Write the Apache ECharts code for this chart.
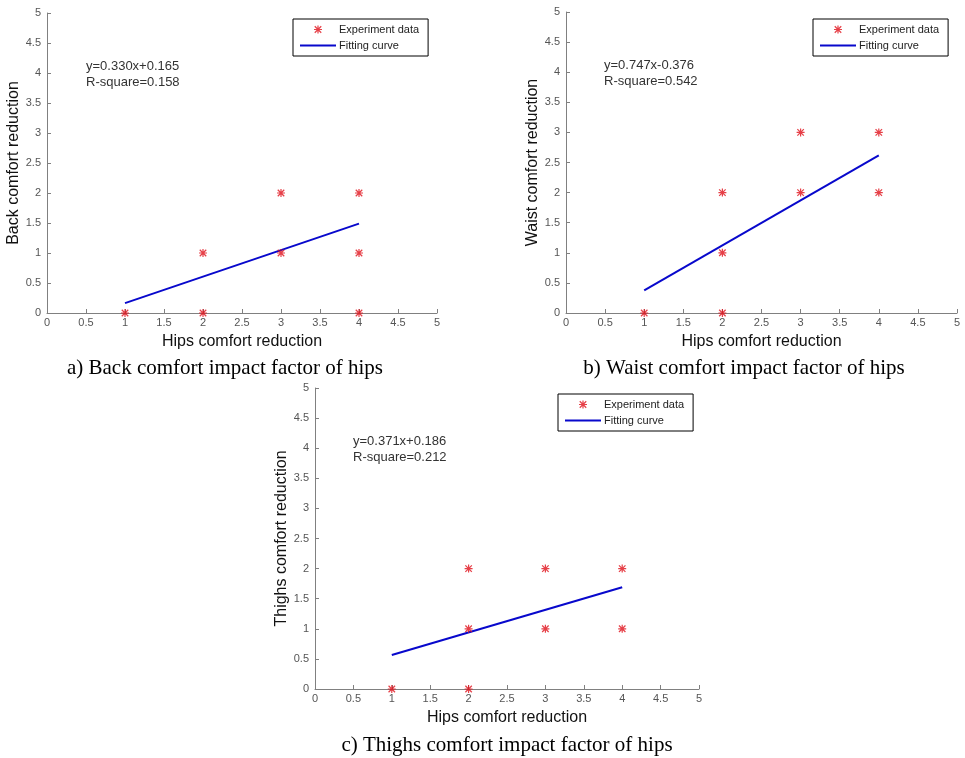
<!DOCTYPE html>
<html>
<head>
<meta charset="utf-8">
<script src="https://cdn.jsdelivr.net/npm/echarts@6/dist/echarts.min.js"></script>
<style>
html,body{margin:0;padding:0;background:#fff;}
#main{width:965px;height:758px;}
</style>
</head>
<body>
<div id="main"></div>
<script>
// ---- data ----
const backX = [1, 2, 2, 3, 3, 4, 4, 4];
const backY = [0, 0, 1, 1, 2, 0, 1, 2];
const backFitX = [1, 4];
const backFitY = [0.165, 1.49];

const waistX = [1, 2, 2, 2, 3, 3, 4, 4];
const waistY = [0, 0, 1, 2, 2, 3, 2, 3];
const waistFitX = [1, 4];
const waistFitY = [0.375, 2.62];

const thighX = [1, 2, 2, 2, 3, 3, 4, 4];
const thighY = [0, 0, 1, 2, 1, 2, 1, 2];
const thighFitX = [1, 4];
const thighFitY = [0.565, 1.69];

const xTitle = 'Hips comfort reduction';
const yTitles = ['Back comfort reduction', 'Waist comfort reduction', 'Thighs comfort reduction'];
const equations = ['y=0.330x+0.165', 'y=0.747x-0.376', 'y=0.371x+0.186'];
const rsquares = ['R-square=0.158', 'R-square=0.542', 'R-square=0.212'];
const captions = ['a) Back comfort impact factor of hips', 'b) Waist comfort impact factor of hips', 'c) Thighs comfort impact factor of hips'];
const legendNames = ['Experiment data', 'Fitting curve'];

// ---- layout ----
const grids = [
  {left: 47, top: 13, width: 390, height: 300},
  {left: 566, top: 12, width: 391, height: 301},
  {left: 315, top: 388, width: 384, height: 301}
];
const legendPos = [
  {left: 293, top: 19},
  {left: 813, top: 19},
  {left: 558, top: 394}
];
const annoPos = [[86, 58], [604, 57], [353, 433]];
const captionPos = [[225, 368], [744, 368], [507, 745]];

const star = 'path://M4.25,0H5.75V10H4.25Z M0,4.25H10V5.75H0Z M1.5,0.4L9.6,8.5L8.5,9.6L0.4,1.5Z M8.5,0.4L9.6,1.5L1.5,9.6L0.4,8.5Z';
const lineIcon = 'path://M0,0H36V2H0Z';
const red = '#e0101a';
const blue = '#0808cc';
const axisGrey = '#808080';

const pts = [[backX, backY], [waistX, waistY], [thighX, thighY]];
const fits = [[backFitX, backFitY], [waistFitX, waistFitY], [thighFitX, thighFitY]];

function zip(a, b) { return a.map((v, i) => [v, b[i]]); }

const xAxes = [], yAxes = [], series = [], legends = [], graphics = [];
for (let i = 0; i < 3; i++) {
  const common = {
    type: 'value', gridIndex: i, min: 0, max: 5, interval: 0.5,
    splitLine: {show: false},
    axisLine: {show: true, lineStyle: {color: axisGrey, width: 1}},
    axisTick: {show: true, inside: true, length: 4, lineStyle: {color: axisGrey}},
    axisLabel: {color: '#555', fontFamily: 'Arial, Liberation Sans', fontSize: 11, margin: 4},
    nameLocation: 'middle',
    nameTextStyle: {color: '#111', fontFamily: 'Arial, Liberation Sans', fontSize: 16}
  };
  xAxes.push(Object.assign({}, common, {name: xTitle, nameGap: 21}));
  yAxes.push(Object.assign({}, common, {name: yTitles[i], nameGap: 22,
    axisLabel: Object.assign({}, common.axisLabel, {margin: 6})}));
  series.push({
    type: 'scatter', name: legendNames[0], xAxisIndex: i, yAxisIndex: i,
    data: zip(pts[i][0], pts[i][1]), symbol: star, symbolSize: 8,
    itemStyle: {color: red}, z: 5, clip: false
  });
  series.push({
    type: 'line', name: legendNames[1], xAxisIndex: i, yAxisIndex: i,
    data: zip(fits[i][0], fits[i][1]), symbol: 'none',
    lineStyle: {color: blue, width: 2}, itemStyle: {color: blue}, z: 4
  });
  legends.push({
    left: legendPos[i].left, top: legendPos[i].top, orient: 'vertical',
    backgroundColor: '#fff', borderColor: '#000', borderWidth: 1,
    padding: [5, 9, 5, 7], itemGap: 5, itemWidth: 36, itemHeight: 8,
    symbolKeepAspect: true,
    selectedMode: false,
    textStyle: {color: '#222', fontFamily: 'Arial, Liberation Sans', fontSize: 11, padding: [0, 0, 0, -2]},
    data: [
      {name: legendNames[0], icon: star, itemStyle: {color: red}},
      {name: legendNames[1], icon: lineIcon, itemStyle: {color: blue}}
    ]
  });
  graphics.push({
    type: 'text', left: annoPos[i][0], top: annoPos[i][1],
    style: {text: equations[i] + '\n' + rsquares[i], fill: '#333', font: '13px Arial, Liberation Sans', lineHeight: 16}
  });
  graphics.push({
    type: 'text', x: captionPos[i][0], y: captionPos[i][1],
    style: {text: captions[i], fill: '#000', font: '21px "Times New Roman", "Liberation Serif", serif', align: 'center', verticalAlign: 'middle'}
  });
}

const chart = echarts.init(document.getElementById('main'));
chart.setOption({
  animation: false,
  backgroundColor: '#fff',
  grid: grids,
  xAxis: xAxes,
  yAxis: yAxes,
  legend: legends,
  series: series,
  graphic: graphics
});
</script>
</body>
</html>
